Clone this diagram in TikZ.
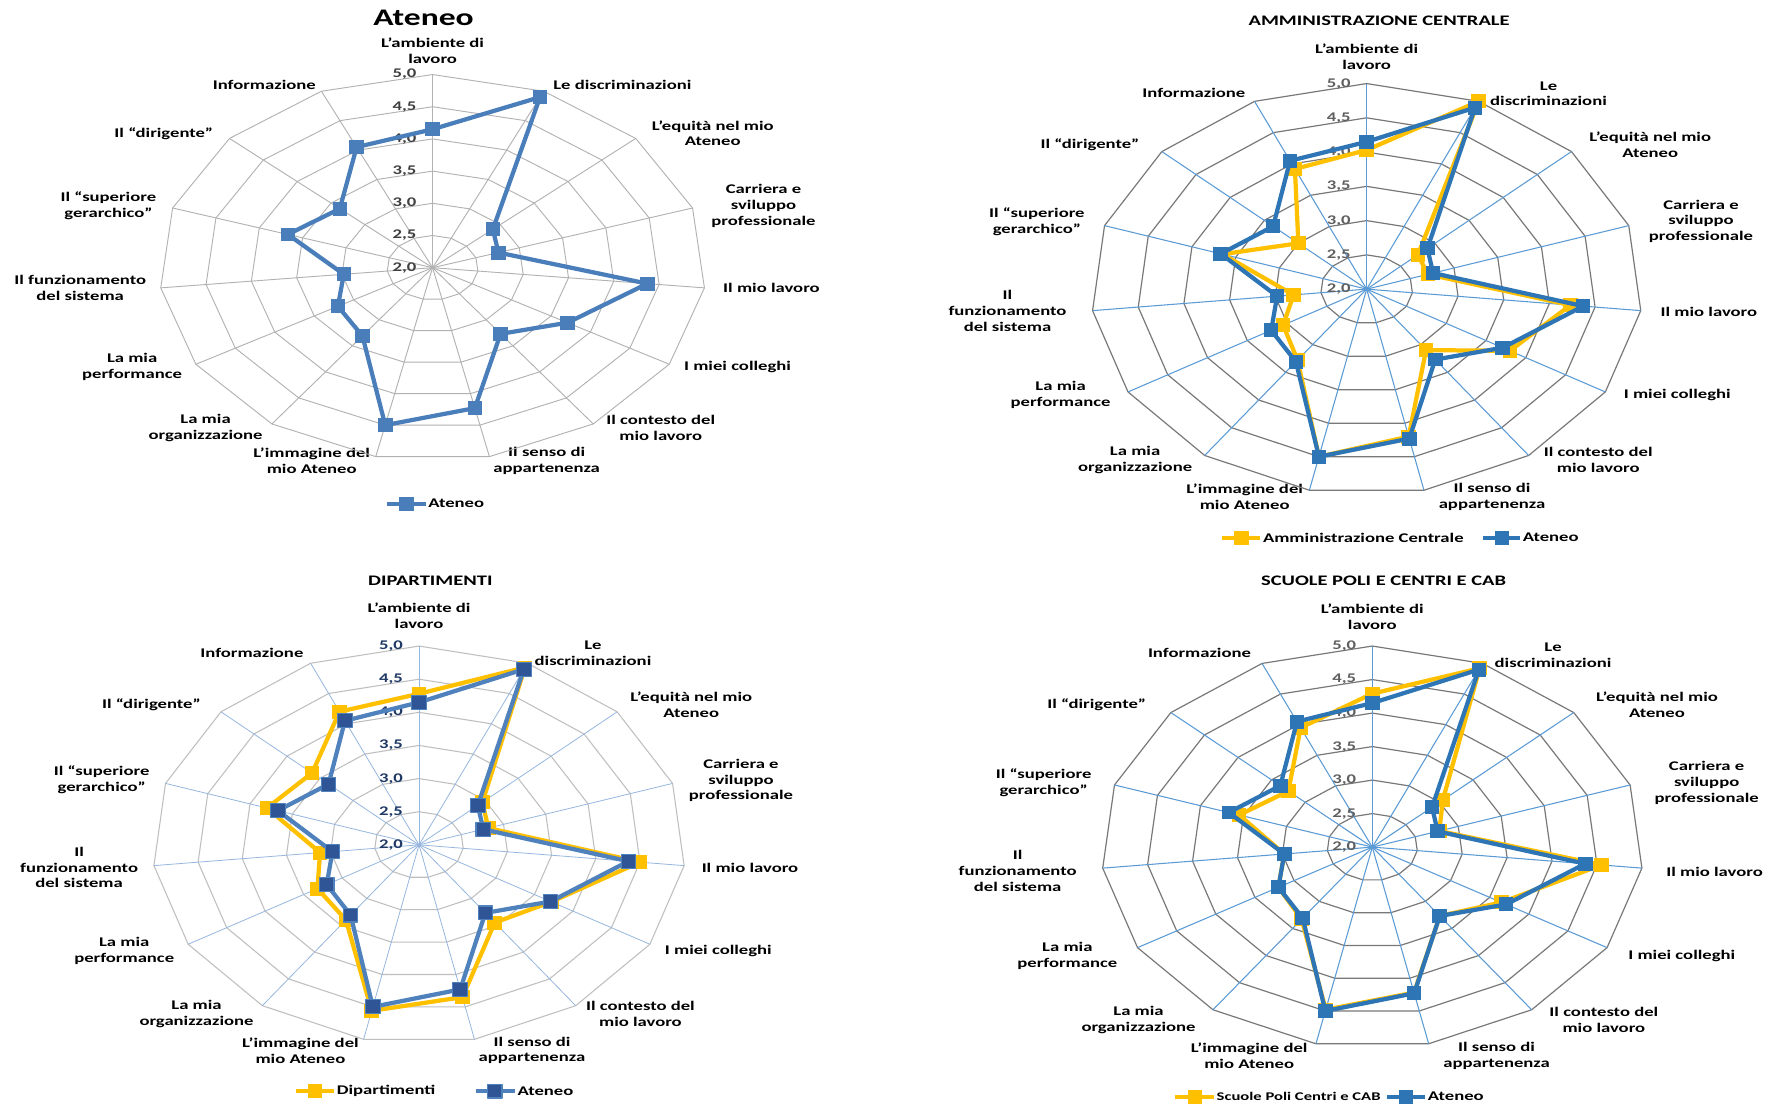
\documentclass[tikz,border=0pt]{standalone}
\usepackage{fontspec}
\setmainfont{Carlito}[FakeStretch=1.41]

\definecolor{cRingA}{RGB}{178,178,178}
\definecolor{cNumA}{RGB}{64,64,64}
\definecolor{cBlueA}{RGB}{74,126,187}
\definecolor{cRingB}{RGB}{120,120,120}
\definecolor{cSpokeB}{RGB}{91,155,213}
\definecolor{cNumB}{RGB}{95,95,95}
\definecolor{cBlueB}{RGB}{46,117,182}
\definecolor{cYel}{RGB}{255,192,0}
\definecolor{cRingC}{RGB}{191,191,191}
\definecolor{cSpokeC}{RGB}{150,182,222}
\definecolor{cNumC}{RGB}{31,56,100}
\definecolor{cLineC}{RGB}{79,129,189}
\definecolor{cMarkC}{RGB}{47,85,151}

\tikzset{
  lab/.style={font=\fontsize{10}{12}\selectfont\bfseries, align=center, inner sep=0pt},
  num/.style={font=\fontsize{10}{12}\selectfont\bfseries, anchor=east, inner sep=0pt, xshift=-12pt},
  legtext/.style={font=\fontsize{10}{12}\selectfont\bfseries, anchor=west, inner sep=0pt},
  ttlbig/.style={font=\fontsize{18}{22}\selectfont\bfseries, inner sep=0pt},
  ttl/.style={font=\fontsize{11}{13}\selectfont\bfseries, inner sep=0pt},
  mkbase/.style={rectangle, inner sep=0pt, minimum width=11pt, minimum height=10.5pt},
  ringA/.style={draw=cRingA, line width=0.7pt},
  spokeA/.style={draw=cRingA, line width=0.7pt},
  lineA/.style={draw=cBlueA, line width=3.2pt},
  mkA/.style={mkbase, fill=cBlueA},
  ringB/.style={draw=cRingB, line width=0.9pt},
  spokeB/.style={draw=cSpokeB, line width=0.8pt},
  lineBy/.style={draw=cYel, line width=3.2pt},
  mkBy/.style={mkbase, fill=cYel},
  lineBb/.style={draw=cBlueB, line width=3.2pt},
  mkBb/.style={mkbase, fill=cBlueB},
  ringC/.style={draw=cRingC, line width=0.8pt},
  spokeC/.style={draw=cSpokeC, line width=0.6pt},
  lineCb/.style={draw=cLineC, line width=3.2pt},
  mkCb/.style={mkbase, fill=cMarkC, draw=cLineC, line width=0.8pt},
}

% web of six rings, fifteen spokes and the scale values 2,0 ... 5,0
\newcommand{\radargrid}[4]{%
  \foreach \r in {1,...,6}
    \draw[#1] (-90:\r/6) \foreach \k in {1,...,14} { -- ({24*\k-90}:\r/6) } -- cycle;
  \foreach \k in {0,...,14}
    \draw[#2] (0,0) -- ({24*\k-90}:1);
  \foreach \i/\t in {0/2{,}0,1/2{,}5,2/3{,}0,3/3{,}5,4/4{,}0,5/4{,}5,6/5{,}0}
    \node[num, text=#3] (#4-n\i) at (-90:\i/6) {\t};
}

% one data series: fifteen values on the 2..5 scale, closed polygon with square marks
\newcommand{\radarseries}[4]{%
  \foreach \v [count=\k from 0] in {#4}
    \coordinate (#1\k) at ({24*\k-90}:{(\v-2)/3});
  \draw[#2] (#10) \foreach \k in {1,...,14} { -- (#1\k) } -- cycle;
  \foreach \k in {0,...,14}
    \node[#3] (#1m\k) at (#1\k) {};
}

\begin{document}
\begin{tikzpicture}[x=0.03cm, y=-0.03cm, line join=round]
\fill[white] (0,0) rectangle (1568,980);
\useasboundingbox (0,0) rectangle (1568,980);

% ---------------- Ateneo ----------------
\node[ttlbig] (A-title) at (375,16) {Ateneo};
\begin{scope}[shift={(383,237)}]
  \foreach \k/\dx/\dy/\t in {
      0/0/-192/{L’ambiente di\\lavoro},
      1/168/-162/{Le discriminazioni},
      2/248/-119/{L’equità nel mio\\Ateneo},
      3/293/-55/{Carriera e\\sviluppo\\professionale},
      4/300/18/{Il mio lavoro},
      5/270/88/{I miei colleghi},
      6/202/142/{Il contesto del\\mio lavoro},
      7/101/171/{Il senso di\\appartenenza},
      8/-107/171/{L’immagine del\\mio Ateneo},
      9/-201/142/{La mia\\organizzazione},
      10/-266/88/{La mia\\performance},
      11/-312/18/{Il funzionamento\\del sistema},
      12/-287/-55/{Il “superiore\\gerarchico”},
      13/-238/-119/{Il “dirigente”},
      14/-149/-162/{Informazione}}
    \node[lab] (A-l\k) at (\dx,\dy) {\t};
  \begin{scope}[x=7.26cm, y=-5.13cm]
    \radargrid{ringA}{spokeA}{cNumA}{A}
    \radarseries{A-at-}{lineA}{mkA}{4.15,4.9,2.89,2.76,4.37,3.71,3.27,4.23,4.5,3.31,3.2,2.98,3.67,3.37,4.05}
  \end{scope}
\end{scope}
\coordinate (A-lg1) at (343,446);
\coordinate (A-lg2) at (377,446);
\draw[lineA] (A-lg1) -- (A-lg2);
\node[mkA] (A-lgm) at (360,446) {};
\node[legtext] (A-lgt) at (379,446) {Ateneo};

% ---------------- Amministrazione Centrale ----------------
\node[ttl] (B-title) at (1221,18) {AMMINISTRAZIONE CENTRALE};
\begin{scope}[shift={(1210,256)}]
  \foreach \k/\dx/\dy/\t in {
      0/0/-206/{L’ambiente di\\lavoro},
      1/161/-173/{Le\\discriminazioni},
      2/251/-128/{L’equità nel mio\\Ateneo},
      3/296/-60/{Carriera e\\sviluppo\\professionale},
      4/303/20/{Il mio lavoro},
      5/275/94/{I miei colleghi},
      6/205/151/{Il contesto del\\mio lavoro},
      7/111/184/{Il senso di\\appartenenza},
      8/-108/184/{L’immagine del\\mio Ateneo},
      9/-205/151/{La mia\\organizzazione},
      10/-271/94/{La mia\\performance},
      11/-318/19/{Il\\funzionamento\\del sistema},
      12/-292/-60/{Il “superiore\\gerarchico”},
      13/-245/-128/{Il “dirigente”},
      14/-153/-174/{Informazione}}
    \node[lab] (B-l\k) at (\dx,\dy) {\t};
  \begin{scope}[x=7.32cm, y=-5.46cm]
    \radargrid{ringB}{spokeB}{cNumB}{B}
    \radarseries{B-ac-}{lineBy}{mkBy}{4.03,5.0,2.75,2.7,4.23,3.8,3.1,4.2,4.5,3.28,3.05,2.8,3.65,3.0,3.92}
    \radarseries{B-at-}{lineBb}{mkBb}{4.15,4.9,2.89,2.76,4.37,3.71,3.27,4.23,4.5,3.31,3.2,2.98,3.67,3.37,4.05}
  \end{scope}
\end{scope}
\coordinate (B-lg1) at (1082,476);
\coordinate (B-lg2) at (1116,476);
\draw[lineBy] (B-lg1) -- (B-lg2);
\node[mkBy] (B-lgm1) at (1099,476) {};
\node[legtext] (B-lgt1) at (1118,476) {Amministrazione Centrale};
\coordinate (B-lg3) at (1313,476);
\coordinate (B-lg4) at (1346,476);
\draw[lineBb] (B-lg3) -- (B-lg4);
\node[mkBb] (B-lgm2) at (1330,476) {};
\node[legtext] (B-lgt2) at (1348,476) {Ateneo};

% ---------------- Dipartimenti ----------------
\node[ttl] (C-title) at (381,514) {DIPARTIMENTI};
\begin{scope}[shift={(371,748)}]
  \foreach \k/\dx/\dy/\t in {
      0/0/-203/{L’ambiente di\\lavoro},
      1/154/-170/{Le\\discriminazioni},
      2/241/-124/{L’equità nel mio\\Ateneo},
      3/285/-57/{Carriera e\\sviluppo\\professionale},
      4/293/20/{Il mio lavoro},
      5/265/94/{I miei colleghi},
      6/196/150/{Il contesto del\\mio lavoro},
      7/100/182/{Il senso di\\appartenenza},
      8/-105/182/{L’immagine del\\mio Ateneo},
      9/-197/150/{La mia\\organizzazione},
      10/-261/94/{La mia\\performance},
      11/-301/20/{Il\\funzionamento\\del sistema},
      12/-281/-58/{Il “superiore\\gerarchico”},
      13/-237/-124/{Il “dirigente”},
      14/-148/-170/{Informazione}}
    \node[lab] (C-l\k) at (\dx,\dy) {\t};
  \begin{scope}[x=7.08cm, y=-5.28cm]
    \radargrid{ringC}{spokeC}{cNumC}{C}
    \radarseries{C-dp-}{lineBy}{mkBy}{4.28,4.93,2.96,2.82,4.5,3.72,3.45,4.35,4.56,3.4,3.32,3.12,3.8,3.62,4.2}
    \radarseries{C-at-}{lineCb}{mkCb}{4.15,4.9,2.89,2.76,4.37,3.71,3.27,4.23,4.5,3.31,3.2,2.98,3.67,3.37,4.05}
  \end{scope}
\end{scope}
\coordinate (C-lg1) at (262,966);
\coordinate (C-lg2) at (296,966);
\draw[lineBy] (C-lg1) -- (C-lg2);
\node[mkBy] (C-lgm1) at (279,966) {};
\node[legtext] (C-lgt1) at (298,966) {Dipartimenti};
\coordinate (C-lg3) at (421,966);
\coordinate (C-lg4) at (456,966);
\draw[lineCb] (C-lg3) -- (C-lg4);
\node[mkCb] (C-lgm2) at (438,966) {};
\node[legtext] (C-lgt2) at (458,966) {Ateneo};

% ---------------- Scuole Poli Centri e CAB ----------------
\node[ttl] (D-title) at (1225,514) {SCUOLE POLI E CENTRI E CAB};
\begin{scope}[shift={(1215,750)}]
  \foreach \k/\dx/\dy/\t in {
      0/0/-204/{L’ambiente di\\lavoro},
      1/160/-170/{Le\\discriminazioni},
      2/252/-126/{L’equità nel mio\\Ateneo},
      3/296/-57/{Carriera e\\sviluppo\\professionale},
      4/303/22/{Il mio lavoro},
      5/274/96/{I miei colleghi},
      6/205/153/{Il contesto del\\mio lavoro},
      7/110/185/{Il senso di\\appartenenza},
      8/-109/185/{L’immagine del\\mio Ateneo},
      9/-207/153/{La mia\\organizzazione},
      10/-270/96/{La mia\\performance},
      11/-314/21/{Il\\funzionamento\\del sistema},
      12/-291/-57/{Il “superiore\\gerarchico”},
      13/-244/-126/{Il “dirigente”},
      14/-153/-172/{Informazione}}
    \node[lab] (D-l\k) at (\dx,\dy) {\t};
  \begin{scope}[x=7.2cm, y=-5.34cm]
    \radargrid{ringB}{spokeB}{cNumB}{D}
    \radarseries{D-sc-}{lineBy}{mkBy}{4.29,4.92,3.05,2.78,4.55,3.65,3.27,4.22,4.48,3.33,3.2,2.98,3.55,3.25,3.95}
    \radarseries{D-at-}{lineBb}{mkBb}{4.15,4.9,2.89,2.76,4.37,3.71,3.27,4.23,4.5,3.31,3.2,2.98,3.67,3.37,4.05}
  \end{scope}
\end{scope}
\coordinate (D-lg1) at (1040,971);
\coordinate (D-lg2) at (1075,971);
\draw[lineBy] (D-lg1) -- (D-lg2);
\node[mkBy] (D-lgm1) at (1058,971) {};
\node[legtext, font=\fontsize{8.9}{11}\selectfont\bfseries] (D-lgt1) at (1077,971) {Scuole Poli Centri e CAB};
\coordinate (D-lg3) at (1228,971);
\coordinate (D-lg4) at (1262,971);
\draw[lineBb] (D-lg3) -- (D-lg4);
\node[mkBb] (D-lgm2) at (1245,971) {};
\node[legtext] (D-lgt2) at (1264,971) {Ateneo};

\end{tikzpicture}
\end{document}
